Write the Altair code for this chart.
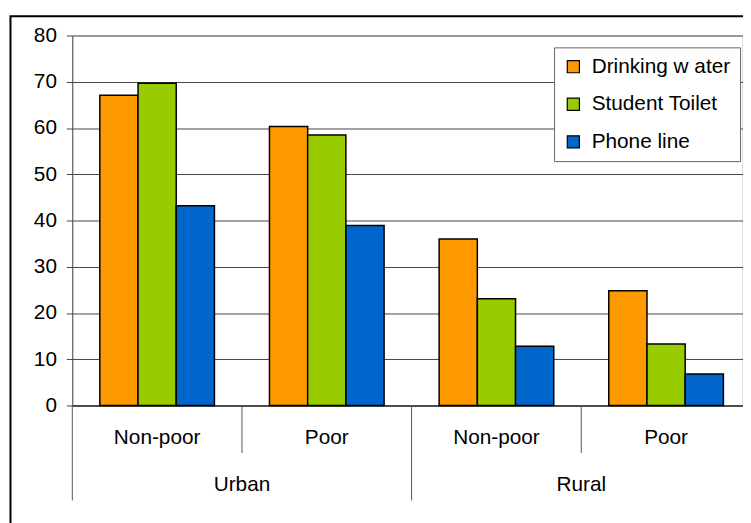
import altair as alt
import pandas as pd

groups = ["Urban", "Urban", "Rural", "Rural"]
subgroups = ["Non-poor", "Poor", "Non-poor", "Poor"]
series = ["Drinking w ater", "Student Toilet", "Phone line"]
drinking = [67.1, 60.3, 36.0, 24.8]
toilet = [69.7, 58.5, 23.1, 13.3]
phone = [43.2, 38.9, 12.8, 6.8]
colors = ["#FF9900", "#99CC00", "#0066CC"]
y_ticks = [0, 10, 20, 30, 40, 50, 60, 70, 80]

FONT = "Liberation Sans"
FS = 21
H = 374

cats = [f"{g} / {s}" for g, s in zip(groups, subgroups)]
rows = []
for vals, name in zip([drinking, toilet, phone], series):
    for c, v in zip(cats, vals):
        rows.append({"cat": c, "series": name, "value": v})
bars_df = pd.DataFrame(rows)
cat_df = pd.DataFrame({"cat": cats, "group": groups, "sub": subgroups})
grp_df = cat_df[cat_df["sub"] == "Non-poor"]
short_df = cat_df[cat_df["sub"] == "Poor"]

xscale = alt.Scale(domain=cats, range=[0, 686], paddingInner=0, paddingOuter=0)

bars = alt.Chart(bars_df).mark_bar(stroke="black", strokeWidth=1.5).encode(
    x=alt.X("cat:N", scale=xscale,
            axis=alt.Axis(labels=False, ticks=False, title=None, domainColor="black",
                          domainWidth=1.2, grid=False)),
    xOffset=alt.XOffset("series:N", sort=series,
                        scale=alt.Scale(domain=series, paddingInner=0, paddingOuter=0.72)),
    y=alt.Y("value:Q", scale=alt.Scale(domain=[0, 80], nice=False),
            axis=alt.Axis(values=y_ticks, title=None, grid=True, gridColor="#444",
                          gridWidth=1, domainColor="#444", tickColor="#444", tickSize=6,
                          labelPadding=10, labelFont=FONT, labelFontSize=FS,
                          labelColor="black")),
    color=alt.Color("series:N", sort=series,
                    scale=alt.Scale(domain=series, range=colors),
                    legend=alt.Legend(title=None, orient="none", legendX=487, legendY=12,
                                      direction="vertical", fillColor="white",
                                      strokeColor="#666", padding=9, symbolType="square",
                                      symbolSize=150, symbolStrokeColor="black",
                                      symbolStrokeWidth=1.2, labelFont=FONT,
                                      labelFontSize=FS, labelColor="black",
                                      labelOffset=8, rowPadding=16)),
)

sub_text = alt.Chart(cat_df).mark_text(font=FONT, fontSize=FS, color="black",
                                       baseline="alphabetic").encode(
    x=alt.X("cat:N", scale=xscale),
    y=alt.value(H + 39),
    text="sub:N",
)

grp_text = alt.Chart(grp_df).mark_text(font=FONT, fontSize=FS, color="black",
                                       baseline="alphabetic").encode(
    x=alt.X("cat:N", scale=xscale, bandPosition=1),
    y=alt.value(H + 86),
    text="group:N",
)

long_rules = alt.Chart(grp_df).mark_rule(color="#555", strokeWidth=1).encode(
    x=alt.X("cat:N", scale=xscale, bandPosition=0),
    y=alt.value(H),
    y2=alt.value(H + 96),
)

short_rules = alt.Chart(short_df).mark_rule(color="#555", strokeWidth=1).encode(
    x=alt.X("cat:N", scale=xscale, bandPosition=0),
    y=alt.value(H),
    y2=alt.value(H + 48),
)

frame = alt.Chart(pd.DataFrame({"k": [0]})).mark_rect(
    fill=None, stroke="black", strokeWidth=2).encode(
    x=alt.value(-62.5), x2=alt.value(1200), y=alt.value(-19.5), y2=alt.value(1200),
)

chart = alt.layer(frame, bars, long_rules, short_rules, sub_text, grp_text).properties(
    width=677, height=H,
    autosize=alt.AutoSizeParams(type="none"),
    padding={"left": 65, "top": 25, "right": 1, "bottom": 116},
).configure_view(stroke=None).configure(background="white")

chart.save("out.html", embed_options={"renderer": "svg", "actions": False})
